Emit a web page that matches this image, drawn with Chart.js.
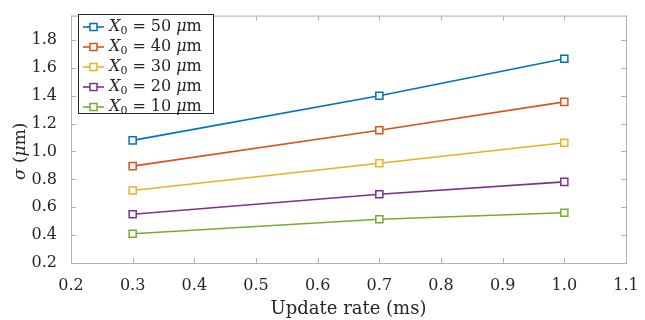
<!DOCTYPE html>
<html>
<head>
<meta charset="utf-8">
<script src="https://cdn.jsdelivr.net/npm/chart.js@4/dist/chart.umd.min.js"></script>
<style>
  html, body { margin: 0; padding: 0; background: #fff; }
  #wrap { width: 645px; height: 320px; }
</style>
</head>
<body>
<div id="wrap"><canvas id="sigmaChart" width="645" height="320"></canvas></div>
<script>
'use strict';

// update rate (ms) on x, spread sigma (um) on y
const updateRates = [0.3, 0.7, 1.0];
const x0Sizes = [50, 40, 30, 20, 10];
const sigma50 = [1.08, 1.40, 1.665];
const sigma40 = [0.895, 1.152, 1.356];
const sigma30 = [0.72, 0.916, 1.063];
const sigma20 = [0.55, 0.693, 0.782];
const sigma10 = [0.41, 0.514, 0.56];
const xTicks = [0.2, 0.3, 0.4, 0.5, 0.6, 0.7, 0.8, 0.9, 1.0, 1.1];
const yTicks = [0.2, 0.4, 0.6, 0.8, 1.0, 1.2, 1.4, 1.6, 1.8];

const seriesColors = ['#0072BD', '#D95319', '#EDB120', '#7E2F8E', '#77AC30'];
const allSigma = [sigma50, sigma40, sigma30, sigma20, sigma10];

const SERIF = '"DejaVu Serif", "Liberation Serif", serif';
const TEXT = '#262626';
const AXIS = '#b0b0b0';

function toPoints(values) {
    return values.map((v, i) => ({ x: updateRates[i], y: v }));
}

const datasets = allSigma.map((values, i) => ({
    label: 'X0 = ' + x0Sizes[i] + ' μm',
    size: x0Sizes[i],
    data: toPoints(values),
    borderColor: seriesColors[i],
    backgroundColor: '#ffffff',
    borderWidth: 1.6,
    pointStyle: 'rect',
    pointRadius: 5,
    pointHoverRadius: 5,
    pointBorderWidth: 1.5,
    pointBackgroundColor: '#ffffff',
    pointBorderColor: seriesColors[i],
    tension: 0
}));

// box round the plot with inward ticks on all four sides, plus the y title
const framePlugin = {
    id: 'frame',
    beforeDatasetsDraw(chart) {
        const ctx = chart.ctx;
        const a = chart.chartArea;
        const sx = chart.scales.x, sy = chart.scales.y;
        const len = 5;
        ctx.save();
        ctx.strokeStyle = AXIS;
        ctx.lineWidth = 1;
        ctx.strokeRect(a.left + 0.5, a.top + 0.5, a.right - a.left, a.bottom - a.top);
        ctx.beginPath();
        xTicks.forEach(t => {
            const px = Math.round(sx.getPixelForValue(t)) + 0.5;
            ctx.moveTo(px, a.bottom); ctx.lineTo(px, a.bottom - len);
            ctx.moveTo(px, a.top); ctx.lineTo(px, a.top + len);
        });
        yTicks.forEach(t => {
            const py = Math.round(sy.getPixelForValue(t)) + 0.5;
            ctx.moveTo(a.left, py); ctx.lineTo(a.left + len, py);
            ctx.moveTo(a.right, py); ctx.lineTo(a.right - len, py);
        });
        ctx.stroke();

        // sigma (um) rotated, sigma and mu in italics
        const parts = [['σ', 'italic '], [' (', ''], ['μ', 'italic '], ['m)', '']];
        ctx.translate(21, (a.top + a.bottom) / 2 + 12);
        ctx.rotate(-Math.PI / 2);
        ctx.fillStyle = TEXT;
        ctx.textBaseline = 'middle';
        let total = 0;
        parts.forEach(p => { ctx.font = p[1] + '17px ' + SERIF; total += ctx.measureText(p[0]).width; });
        let x = -total / 2;
        parts.forEach(p => {
            ctx.font = p[1] + '17px ' + SERIF;
            ctx.fillText(p[0], x, 0);
            x += ctx.measureText(p[0]).width;
        });
        ctx.restore();
    }
};

function drawLegendText(ctx, x, y, size) {
    ctx.fillStyle = TEXT;
    ctx.textBaseline = 'middle';
    ctx.textAlign = 'left';
    ctx.font = 'italic 16px ' + SERIF;
    ctx.fillText('X', x, y);
    x += ctx.measureText('X').width;
    ctx.font = '11px ' + SERIF;
    ctx.fillText('0', x, y + 4);
    x += ctx.measureText('0').width + 5;
    ctx.font = '16px ' + SERIF;
    ctx.fillText('=', x, y);
    x += ctx.measureText('=').width + 5;
    ctx.fillText(String(size), x, y);
    x += ctx.measureText(String(size)).width + 5;
    ctx.font = 'italic 16px ' + SERIF;
    ctx.fillText('μ', x, y);
    x += ctx.measureText('μ').width;
    ctx.font = '16px ' + SERIF;
    ctx.fillText('m', x, y);
}

// legend box in the upper left corner, line + marker per series
const legendPlugin = {
    id: 'boxLegend',
    afterDatasetsDraw(chart) {
        const ctx = chart.ctx;
        const left = 78, top = 14, w = 135, h = 99, rowH = 20;
        ctx.save();
        ctx.fillStyle = '#ffffff';
        ctx.fillRect(left, top, w, h);
        ctx.strokeStyle = '#262626';
        ctx.lineWidth = 1;
        ctx.strokeRect(left + 0.5, top + 0.5, w, h);
        chart.data.datasets.forEach((ds, i) => {
            const y = top + 13 + i * rowH;
            ctx.strokeStyle = ds.borderColor;
            ctx.lineWidth = 1.6;
            ctx.beginPath();
            ctx.moveTo(left + 5, y);
            ctx.lineTo(left + 26, y);
            ctx.stroke();
            ctx.fillStyle = '#ffffff';
            ctx.lineWidth = 1.5;
            ctx.fillRect(left + 12, y - 3.5, 7, 7);
            ctx.strokeRect(left + 12, y - 3.5, 7, 7);
            drawLegendText(ctx, left + 31, y, ds.size);
        });
        ctx.restore();
    }
};

new Chart(document.getElementById('sigmaChart'), {
    type: 'line',
    data: { datasets: datasets },
    options: {
        responsive: false,
        animation: false,
        layout: { padding: { left: 0, right: 19, top: 10, bottom: 0 } },
        plugins: {
            legend: { display: false },
            tooltip: { enabled: false }
        },
        scales: {
            x: {
                type: 'linear',
                min: 0.2,
                max: 1.1,
                afterBuildTicks: scale => { scale.ticks = xTicks.map(v => ({ value: v })); },
                afterFit: scale => { scale.height = 57; },
                grid: { display: false },
                border: { display: false },
                ticks: {
                    color: TEXT,
                    padding: 5,
                    maxRotation: 0,
                    font: { family: SERIF, size: 16 },
                    callback: v => v.toFixed(1)
                },
                title: {
                    display: true,
                    text: 'Update rate (ms)',
                    color: TEXT,
                    font: { family: SERIF, size: 18 },
                    padding: { top: 2, bottom: 0 }
                }
            },
            y: {
                type: 'linear',
                min: 0.2,
                max: 1.975,
                afterBuildTicks: scale => { scale.ticks = yTicks.map(v => ({ value: v })); },
                afterFit: scale => { scale.width = 71; },
                grid: { display: false },
                border: { display: false },
                ticks: {
                    color: TEXT,
                    padding: 6,
                    font: { family: SERIF, size: 16 },
                    callback: v => v.toFixed(1)
                }
            }
        }
    },
    plugins: [framePlugin, legendPlugin]
});
</script>
</body>
</html>
